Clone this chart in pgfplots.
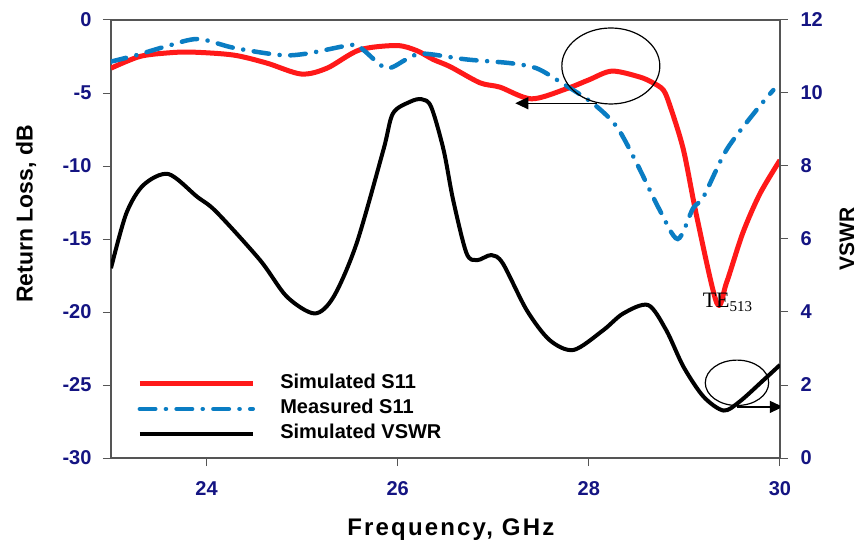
\documentclass[border=0pt]{standalone}
\usepackage{pgfplots}
\pgfplotsset{compat=1.18}
\usepackage{fontspec}
\setmainfont{Liberation Sans}
\newfontfamily\serifTE{Liberation Serif}
\usetikzlibrary{arrows.meta}
\definecolor{tickblue}{RGB}{20,20,130}
\definecolor{simred}{RGB}{255,25,25}
\definecolor{measblue}{RGB}{10,125,195}
\definecolor{axgray}{RGB}{85,85,85}
\pgfplotsset{
  common/.style={
    scale only axis, width=669pt, height=438pt,
    at={(0pt,0pt)}, anchor=south west,
    xmin=23, xmax=30,
    /pgf/number format/assume math mode=true,
    tick align=outside, major tick length=8pt,
    tick style={axgray, line width=1pt},
    axis line style={axgray, line width=1.3pt},
    ticklabel style={font=\fontsize{20}{24}\selectfont\bfseries, text=tickblue},
  }
}
\pgfplotstableread{
x y
23.0 -3.3
23.3 -2.5
23.6 -2.25
23.85 -2.2
24.28 -2.4
24.63 -2.95
24.99 -3.7
25.26 -3.3
25.6 -2.05
25.99 -1.75
26.2 -2.1
26.37 -2.7
26.55 -3.2
26.86 -4.3
27.07 -4.6
27.4 -5.4
27.77 -4.7
28.0 -4.1
28.24 -3.5
28.53 -3.9
28.67 -4.3
28.78 -4.8
28.85 -5.9
28.99 -8.9
29.13 -13.5
29.34 -19.4
29.44 -18.0
29.61 -14.6
29.79 -11.9
30.0 -9.6
}\simS
\pgfplotstableread{
x y
23.0 -2.85
23.27 -2.4
23.58 -1.8
23.91 -1.3
24.28 -1.9
24.77 -2.4
25.05 -2.3
25.53 -1.7
25.64 -2.05
25.88 -3.3
26.09 -2.7
26.26 -2.3
26.72 -2.7
27.17 -2.95
27.45 -3.3
27.69 -4.2
28.04 -5.7
28.29 -7.3
28.5 -9.8
28.74 -13.0
28.93 -15.0
29.09 -12.9
29.2 -12.1
29.44 -8.9
29.75 -6.2
29.93 -4.8
}\measS
\pgfplotstableread{
x y
23.0 5.2
23.16 6.7
23.34 7.48
23.6 7.78
23.9 7.16
24.1 6.75
24.56 5.42
24.84 4.42
25.13 3.96
25.33 4.42
25.57 5.88
25.85 8.44
25.95 9.44
26.13 9.76
26.25 9.83
26.35 9.62
26.48 8.44
26.58 7.07
26.72 5.61
26.83 5.42
26.98 5.56
27.1 5.33
27.35 4.05
27.59 3.23
27.84 2.96
28.15 3.5
28.36 3.96
28.62 4.19
28.81 3.5
28.99 2.5
29.2 1.68
29.41 1.3
29.58 1.55
29.83 2.14
30.0 2.55
}\simV
\begin{document}
\begin{tikzpicture}
\begin{axis}[common,
  ymin=-30, ymax=0, ytick={-30,-25,...,0},
  xtick={24,26,28,30},
  xtick pos=left, ytick pos=left,
  xticklabel style={yshift=-12pt},
  yticklabel style={xshift=-8pt},
  xlabel={\addfontfeatures{LetterSpace=9}Frequency, GHz},
  xlabel style={font=\fontsize{24}{28}\selectfont\bfseries, at={(axis description cs:0.508,-0.176)}, anchor=base},
  ylabel={Return Loss, dB},
  ylabel style={font=\fontsize{23}{27}\selectfont\bfseries, at={(axis description cs:-0.127,0.557)}, anchor=center, rotate=0},
  legend style={draw=none, fill=none, at={(axis description cs:0.039,0.198)}, anchor=north west,
    inner sep=0pt, font=\fontsize{20}{24}\selectfont\bfseries, row sep=0pt,
    nodes={inner sep=1pt, text height=16pt, text depth=7pt},
    /tikz/every odd column/.append style={column sep=24pt}},
  legend cell align=left,
  legend image code/.code={\draw[#1] (0pt,0pt) -- (113pt,0pt);},
]
\addplot[simred, line width=5pt, smooth, line join=round] table[x=x,y=y] {\simS};
\addlegendentry{Simulated S11}
\addplot[measblue, line width=4.5pt, smooth, line cap=round, dash pattern=on 15.5pt off 10.6pt on 0.1pt off 10.6pt] table[x=x,y=y] {\measS};
\addlegendentry{Measured S11}
\addlegendimage{black, line width=4pt}
\addlegendentry{Simulated VSWR}
\draw[black, line width=1.2pt] (axis cs:28.23,-3.15) ellipse [x radius=49pt, y radius=38pt];
\draw[black, line width=1.2pt, -{Triangle[length=13pt,width=12pt]}] (axis cs:28.08,-5.7) -- (axis cs:27.23,-5.7);
\node[anchor=base west, inner sep=0pt, text=black] at (axis cs:29.19,-19.66)
  {\serifTE\fontsize{22}{22}\selectfont TE\raisebox{-4pt}{\fontsize{15}{15}\selectfont 513}};
\end{axis}
\begin{axis}[common,
  axis x line=none, axis y line*=right,
  ymin=0, ymax=12, ytick={0,2,...,12},
  yticklabel style={xshift=9pt},
  ylabel={VSWR},
  ylabel style={font=\fontsize{21}{25}\selectfont\bfseries, at={(axis description cs:1.1,0.5)}, anchor=center, rotate=0},
]
\addplot[black, line width=4pt, smooth, line join=round] table[x=x,y=y] {\simV};
\draw[black, line width=1.2pt] (axis cs:29.55,2.06) ellipse [x radius=31.7pt, y radius=22.7pt];
\draw[black, line width=1.2pt, -{Triangle[length=13pt,width=12pt]}] (axis cs:29.55,1.4) -- (axis cs:30.03,1.4);
\end{axis}
\pgfresetboundingbox
\path (-111pt,-86pt) rectangle (746pt,458pt);
\end{tikzpicture}
\end{document}
